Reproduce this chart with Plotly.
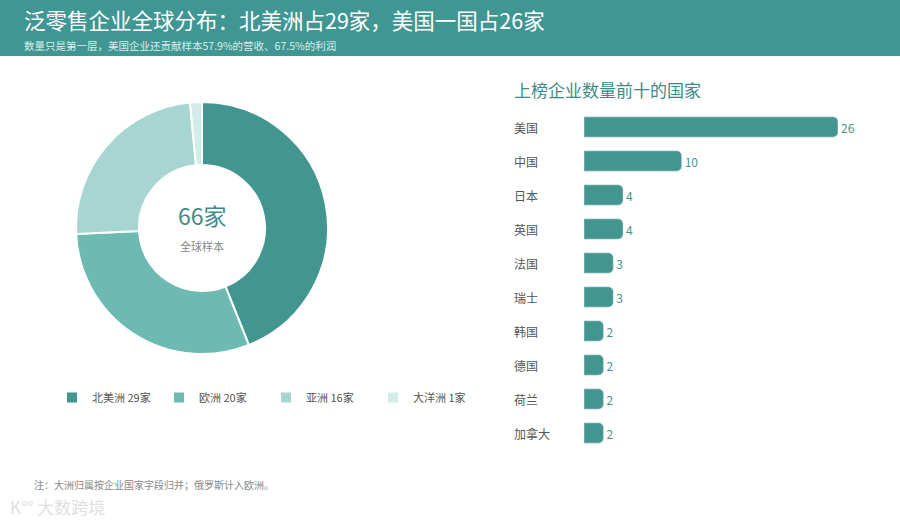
import plotly.graph_objects as go

# continent split of the 66 companies
continents = ["北美洲", "欧洲", "亚洲", "大洋洲"]
continent_counts = [29, 20, 16, 1]
continent_colors = ["#43968f", "#6dbab3", "#a7d6d2", "#d4ece9"]

# top ten countries
countries = ["美国", "中国", "日本", "英国", "法国", "瑞士", "韩国", "德国", "荷兰", "加拿大"]
country_counts = [26, 10, 4, 4, 3, 3, 2, 2, 2, 2]

total = sum(continent_counts)

W, H = 900, 523
TEAL = "#3f9692"
FONT = "Noto Sans CJK SC, Noto Sans, sans-serif"


def px(x):
    return x / W


def py(y):
    return 1 - y / H


fig = go.Figure()

fig.add_trace(
    go.Pie(
        labels=[f"{c} {n}家" for c, n in zip(continents, continent_counts)],
        values=continent_counts,
        hole=0.5,
        sort=False,
        direction="clockwise",
        rotation=0,
        marker=dict(colors=continent_colors, line=dict(color="white", width=2)),
        textinfo="none",
        domain=dict(x=[px(76), px(328)], y=[py(354), py(102)]),
        showlegend=True,
    )
)

fig.add_trace(
    go.Bar(
        x=country_counts,
        y=countries,
        orientation="h",
        marker=dict(color="#43968f", cornerradius=5),
        width=0.6,
        text=[str(v) for v in country_counts],
        textposition="outside",
        textfont=dict(color="#43968f", size=12, family=FONT),
        cliponaxis=False,
        xaxis="x",
        yaxis="y",
        showlegend=False,
    )
)

# row labels, left aligned
for c in countries:
    fig.add_annotation(
        x=px(512), xref="paper", y=c, yref="y",
        text=c, showarrow=False, xanchor="left",
        font=dict(size=12, color="#555555", family=FONT),
    )

fig.update_layout(
    width=W,
    height=H,
    margin=dict(l=0, r=0, t=0, b=0),
    paper_bgcolor="white",
    plot_bgcolor="white",
    font=dict(family=FONT),
    xaxis=dict(domain=[px(584), px(838)], range=[0, 26], visible=False, fixedrange=True),
    yaxis=dict(
        domain=[py(450), py(110)],
        autorange="reversed",
        visible=False,
        fixedrange=True,
    ),
    legend=dict(
        orientation="h",
        x=px(52),
        y=py(383),
        xanchor="left",
        yanchor="top",
        entrywidth=62,
        entrywidthmode="pixels",
        font=dict(size=11, color="#555555", family=FONT),
        traceorder="normal",
    ),
    shapes=[
        dict(type="rect", xref="paper", yref="paper", x0=0, x1=1, y0=py(56), y1=1,
             fillcolor=TEAL, line=dict(width=0), layer="below"),
    ],
)

annotations = [
    dict(x=px(22), y=py(20), text="泛零售企业全球分布：北美洲占29家，美国一国占26家",
         font=dict(size=21.5, color="white", family=FONT)),
    dict(x=px(22), y=py(45), text="数量只是第一层，美国企业还贡献样本57.9%的营收、67.5%的利润",
         font=dict(size=10.5, color="#d9eeec", family=FONT)),
    dict(x=px(512), y=py(89), text="上榜企业数量前十的国家",
         font=dict(size=17, color="#3f8a86", family=FONT)),
    dict(x=px(202), y=py(215), text=f"{total}家", xanchor="center",
         font=dict(size=23, color="#3f8a86", family=FONT)),
    dict(x=px(202), y=py(246), text="全球样本", xanchor="center",
         font=dict(size=11, color="#888888", family=FONT)),
    dict(x=px(32), y=py(484), text="注：大洲归属按企业国家字段归并；俄罗斯计入欧洲。",
         font=dict(size=10, color="#888888", family=FONT)),
    dict(x=px(8), y=py(506), text="K°° 大数跨境",
         font=dict(size=17, color="#e0e0e0", family=FONT)),
]
for a in annotations:
    a.setdefault("xanchor", "left")
    fig.add_annotation(xref="paper", yref="paper", showarrow=False, yanchor="middle", **a)

fig.write_html(
    "out.html",
    config={"displayModeBar": False},
    post_script="document.body.style.margin='0';",
)
